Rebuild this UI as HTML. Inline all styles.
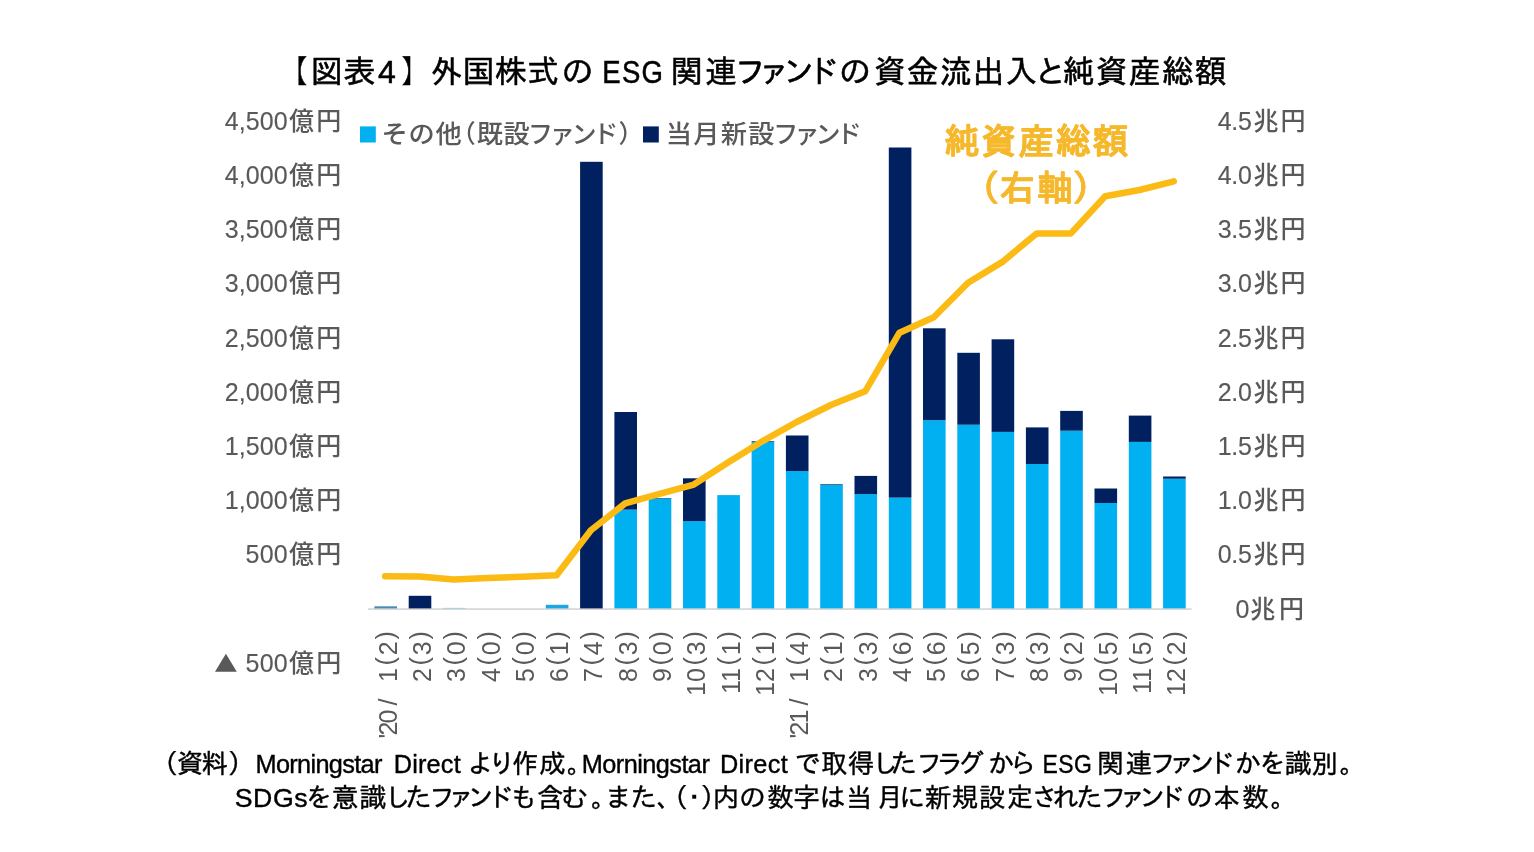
<!DOCTYPE html>
<html lang="ja">
<head>
<meta charset="utf-8">
<title>図表4 外国株式のESG関連ファンドの資金流出入と純資産総額</title>
<style>
html,body{margin:0;padding:0;background:#fff;}
body{width:1534px;height:852px;overflow:hidden;}
svg{display:block;}
text{white-space:pre;}
.g{font-family:"Liberation Sans","IPAPGothic","IPAGothic","Noto Sans CJK JP",sans-serif;fill:#000;}
.t{font-size:32px;stroke:#000;stroke-width:0.55px;}
.f{font-size:26.67px;stroke:#000;stroke-width:0.4px;}
.y{font-family:"Liberation Sans","IPAPGothic","IPAGothic","Noto Sans CJK JP",sans-serif;fill:#F6B82C;font-size:35.5px;font-weight:bold;stroke:#F6B82C;stroke-width:0.4px;stroke-linejoin:round;}
.n{font-family:"Liberation Sans","Noto Sans CJK JP",sans-serif;fill:#595959;font-size:25px;stroke:#595959;stroke-width:0.15px;}
.x{font-family:"Liberation Sans","Noto Sans CJK JP",sans-serif;fill:#595959;font-size:25px;}
.k{font-family:"Liberation Sans","Noto Sans CJK JP",sans-serif;fill:#595959;font-size:25px;font-weight:500;}
</style>
</head>
<body>
<svg width="1534" height="852" viewBox="0 0 1534 852">
<rect width="1534" height="852" fill="#fff"/>
<!-- title -->
<text class="g t" x="290.87" y="83">【</text>
<text class="g t" x="310.75" y="83" textLength="64.64" lengthAdjust="spacing">図表</text>
<text class="g t" x="378.12" y="83">4</text>
<text class="g t" x="400.38" y="83">】</text>
<text class="g t" x="430.5" y="83" textLength="128.21" lengthAdjust="spacing">外国株式</text>
<text class="g t" x="561.99" y="83">の</text>
<text class="g t" transform="translate(602.29 83) scale(0.86 1)" x="0" y="0" textLength="70.56" lengthAdjust="spacing">ESG</text>
<text class="g t" x="670.76" y="83" textLength="66.54" lengthAdjust="spacing">関連</text>
<text class="g t" x="737.16" y="83" textLength="99.22" lengthAdjust="spacing">ファンド</text>
<text class="g t" x="839.55" y="83">の</text>
<text class="g t" x="874.02" y="83" textLength="163.14" lengthAdjust="spacing">資金流出入</text>
<text class="g t" x="1037.66" y="83">と</text>
<text class="g t" x="1062.73" y="83" textLength="163.94" lengthAdjust="spacing">純資産総額</text>
<!-- axis -->
<rect x="368" y="608.2" width="823.5" height="1.8" fill="#D9D9D9"/>
<!-- bars -->
<rect x="374.4" y="606.3" width="22.6" height="2.1" fill="#4A8AB5"/>
<rect x="443.0" y="607.9" width="22.6" height="0.6" fill="#7FC4E8"/>
<rect x="545.8" y="604.8" width="22.6" height="3.6" fill="#1FA4E4"/>
<rect x="408.7" y="595.8" width="22.6" height="12.6" fill="#002060"/>
<rect x="580.1" y="161.8" width="22.6" height="446.6" fill="#002060"/>
<rect x="614.4" y="509.6" width="22.6" height="98.8" fill="#00B0F0"/><rect x="614.4" y="412.0" width="22.6" height="97.6" fill="#002060"/>
<rect x="648.7" y="498.5" width="22.6" height="109.9" fill="#00B0F0"/><rect x="648.7" y="498.0" width="22.6" height="0.5" fill="#002060"/>
<rect x="683.0" y="521.2" width="22.6" height="87.2" fill="#00B0F0"/><rect x="683.0" y="478.3" width="22.6" height="42.9" fill="#002060"/>
<rect x="717.3" y="495.1" width="22.6" height="113.3" fill="#00B0F0"/>
<rect x="751.6" y="442.0" width="22.6" height="166.4" fill="#00B0F0"/><rect x="751.6" y="441.3" width="22.6" height="0.7" fill="#002060"/>
<rect x="785.9" y="471.1" width="22.6" height="137.3" fill="#00B0F0"/><rect x="785.9" y="435.5" width="22.6" height="35.6" fill="#002060"/>
<rect x="820.2" y="484.7" width="22.6" height="123.7" fill="#00B0F0"/><rect x="820.2" y="484.1" width="22.6" height="0.6" fill="#002060"/>
<rect x="854.5" y="494.1" width="22.6" height="114.3" fill="#00B0F0"/><rect x="854.5" y="475.9" width="22.6" height="18.2" fill="#002060"/>
<rect x="888.8" y="497.6" width="22.6" height="110.8" fill="#00B0F0"/><rect x="888.8" y="147.5" width="22.6" height="350.1" fill="#002060"/>
<rect x="923.0" y="420.2" width="22.6" height="188.2" fill="#00B0F0"/><rect x="923.0" y="328.3" width="22.6" height="91.9" fill="#002060"/>
<rect x="957.3" y="424.7" width="22.6" height="183.7" fill="#00B0F0"/><rect x="957.3" y="352.8" width="22.6" height="71.9" fill="#002060"/>
<rect x="991.6" y="431.9" width="22.6" height="176.5" fill="#00B0F0"/><rect x="991.6" y="339.3" width="22.6" height="92.6" fill="#002060"/>
<rect x="1025.9" y="464.0" width="22.6" height="144.4" fill="#00B0F0"/><rect x="1025.9" y="427.4" width="22.6" height="36.6" fill="#002060"/>
<rect x="1060.2" y="430.7" width="22.6" height="177.7" fill="#00B0F0"/><rect x="1060.2" y="410.9" width="22.6" height="19.8" fill="#002060"/>
<rect x="1094.5" y="503.0" width="22.6" height="105.4" fill="#00B0F0"/><rect x="1094.5" y="488.5" width="22.6" height="14.5" fill="#002060"/>
<rect x="1128.8" y="441.9" width="22.6" height="166.5" fill="#00B0F0"/><rect x="1128.8" y="415.6" width="22.6" height="26.3" fill="#002060"/>
<rect x="1163.1" y="478.7" width="22.6" height="129.7" fill="#00B0F0"/><rect x="1163.1" y="476.5" width="22.6" height="2.2" fill="#002060"/>
<!-- line -->
<polyline points="385.1,576.3 419.4,576.6 453.7,579.6 488.0,578.0 522.3,576.8 556.6,575.2 590.9,530.2 625.2,503.4 659.5,493.9 693.8,484.6 728.0,462.6 762.3,441.3 796.6,422.0 830.9,405.0 865.2,391.3 899.5,332.7 933.8,317.2 968.1,282.7 1002.4,261.9 1036.7,233.4 1070.9,233.4 1105.2,196.3 1139.5,190.0 1173.8,181.3" fill="none" stroke="#FBBB14" stroke-width="6.5" stroke-linecap="round" stroke-linejoin="round"/>
<!-- left axis -->
<text class="n" x="224.8" y="129.8" textLength="62.85" lengthAdjust="spacing">4,500</text><text class="k" x="289.0" y="129.8" textLength="52.3" lengthAdjust="spacing">億円</text>
<text class="n" x="224.8" y="184.0" textLength="62.85" lengthAdjust="spacing">4,000</text><text class="k" x="289.0" y="184.0" textLength="52.3" lengthAdjust="spacing">億円</text>
<text class="n" x="224.8" y="238.2" textLength="62.85" lengthAdjust="spacing">3,500</text><text class="k" x="289.0" y="238.2" textLength="52.3" lengthAdjust="spacing">億円</text>
<text class="n" x="224.8" y="292.4" textLength="62.85" lengthAdjust="spacing">3,000</text><text class="k" x="289.0" y="292.4" textLength="52.3" lengthAdjust="spacing">億円</text>
<text class="n" x="224.8" y="346.6" textLength="62.85" lengthAdjust="spacing">2,500</text><text class="k" x="289.0" y="346.6" textLength="52.3" lengthAdjust="spacing">億円</text>
<text class="n" x="224.8" y="400.8" textLength="62.85" lengthAdjust="spacing">2,000</text><text class="k" x="289.0" y="400.8" textLength="52.3" lengthAdjust="spacing">億円</text>
<text class="n" x="224.8" y="454.9" textLength="62.85" lengthAdjust="spacing">1,500</text><text class="k" x="289.0" y="454.9" textLength="52.3" lengthAdjust="spacing">億円</text>
<text class="n" x="224.8" y="509.1" textLength="62.85" lengthAdjust="spacing">1,000</text><text class="k" x="289.0" y="509.1" textLength="52.3" lengthAdjust="spacing">億円</text>
<text class="n" x="245.5" y="563.3" textLength="42.2" lengthAdjust="spacing">500</text><text class="k" x="289.0" y="563.3" textLength="52.3" lengthAdjust="spacing">億円</text>
<path d="M215 671.8 L225.9 653.8 L236.8 671.8 Z" fill="#595959"/>
<text class="n" x="245.5" y="671.7" textLength="42.2" lengthAdjust="spacing">500</text><text class="k" x="289.0" y="671.7" textLength="52.3" lengthAdjust="spacing">億円</text>
<!-- right axis -->
<text class="n" x="1217.8" y="129.8" textLength="34.0" lengthAdjust="spacing">4.5</text><text class="k" x="1253.5" y="129.8" textLength="52.1" lengthAdjust="spacing">兆円</text>
<text class="n" x="1217.8" y="184.0" textLength="34.0" lengthAdjust="spacing">4.0</text><text class="k" x="1253.5" y="184.0" textLength="52.1" lengthAdjust="spacing">兆円</text>
<text class="n" x="1217.8" y="238.2" textLength="34.0" lengthAdjust="spacing">3.5</text><text class="k" x="1253.5" y="238.2" textLength="52.1" lengthAdjust="spacing">兆円</text>
<text class="n" x="1217.8" y="292.4" textLength="34.0" lengthAdjust="spacing">3.0</text><text class="k" x="1253.5" y="292.4" textLength="52.1" lengthAdjust="spacing">兆円</text>
<text class="n" x="1217.8" y="346.6" textLength="34.0" lengthAdjust="spacing">2.5</text><text class="k" x="1253.5" y="346.6" textLength="52.1" lengthAdjust="spacing">兆円</text>
<text class="n" x="1217.8" y="400.8" textLength="34.0" lengthAdjust="spacing">2.0</text><text class="k" x="1253.5" y="400.8" textLength="52.1" lengthAdjust="spacing">兆円</text>
<text class="n" x="1217.8" y="454.9" textLength="34.0" lengthAdjust="spacing">1.5</text><text class="k" x="1253.5" y="454.9" textLength="52.1" lengthAdjust="spacing">兆円</text>
<text class="n" x="1217.8" y="509.1" textLength="34.0" lengthAdjust="spacing">1.0</text><text class="k" x="1253.5" y="509.1" textLength="52.1" lengthAdjust="spacing">兆円</text>
<text class="n" x="1217.8" y="563.3" textLength="34.0" lengthAdjust="spacing">0.5</text><text class="k" x="1253.5" y="563.3" textLength="52.1" lengthAdjust="spacing">兆円</text>
<text class="n" x="1235.6" y="617.5">0</text><text class="k" x="1250.2" y="617.5" textLength="53.7" lengthAdjust="spacing">兆円</text>
<!-- legend -->
<rect x="360" y="126.4" width="15.8" height="16.1" fill="#00B0F0"/>
<text class="k" transform="translate(381.51 142.8) scale(1.05 1)" x="0" y="0" textLength="76.45" lengthAdjust="spacing">その他</text>
<text class="k" x="450.74" y="142.8">（</text>
<text class="k" transform="translate(476.64 142.8) scale(1.05 1)" x="0" y="0" textLength="50.52" lengthAdjust="spacing">既設</text>
<text class="k" x="528.09" y="142.8" textLength="90.28" lengthAdjust="spacing">ファンド</text>
<text class="k" x="618.38" y="142.8">）</text>
<rect x="643" y="126.4" width="15.8" height="16.1" fill="#002060"/>
<text class="k" transform="translate(665.87 142.8) scale(1.05 1)" x="0" y="0" textLength="103.55" lengthAdjust="spacing">当月新設</text>
<text class="k" x="773.36" y="142.8" textLength="88.32" lengthAdjust="spacing">ファンド</text>
<!-- annotation -->
<text class="y" x="944.16" y="153.9" textLength="183.91" lengthAdjust="spacing">純資産総額</text>
<text class="y" x="979.67" y="201.0">（</text>
<text class="y" x="999.38" y="201.0" textLength="73.13" lengthAdjust="spacing">右軸</text>
<text class="y" x="1072.51" y="201.0">）</text>
<!-- x axis labels -->
<g transform="translate(396.8 632.5) rotate(-90)"><text class="x" x="-106" y="0" textLength="28.9" lengthAdjust="spacing">'20</text><text class="x" x="-73" y="0">/</text><text class="x" x="-35.6" y="0" text-anchor="end">1</text><text class="x" x="-33" y="0" textLength="34.4" lengthAdjust="spacing"><tspan dy="-3.2">(</tspan><tspan dy="3.2">2</tspan><tspan dy="-3.2">)</tspan></text></g>
<g transform="translate(431.1 632.5) rotate(-90)"><text class="x" x="-35.6" y="0" text-anchor="end">2</text><text class="x" x="-33" y="0" textLength="34.4" lengthAdjust="spacing"><tspan dy="-3.2">(</tspan><tspan dy="3.2">3</tspan><tspan dy="-3.2">)</tspan></text></g>
<g transform="translate(465.3 632.5) rotate(-90)"><text class="x" x="-35.6" y="0" text-anchor="end">3</text><text class="x" x="-33" y="0" textLength="34.4" lengthAdjust="spacing"><tspan dy="-3.2">(</tspan><tspan dy="3.2">0</tspan><tspan dy="-3.2">)</tspan></text></g>
<g transform="translate(499.6 632.5) rotate(-90)"><text class="x" x="-35.6" y="0" text-anchor="end">4</text><text class="x" x="-33" y="0" textLength="34.4" lengthAdjust="spacing"><tspan dy="-3.2">(</tspan><tspan dy="3.2">0</tspan><tspan dy="-3.2">)</tspan></text></g>
<g transform="translate(533.9 632.5) rotate(-90)"><text class="x" x="-35.6" y="0" text-anchor="end">5</text><text class="x" x="-33" y="0" textLength="34.4" lengthAdjust="spacing"><tspan dy="-3.2">(</tspan><tspan dy="3.2">0</tspan><tspan dy="-3.2">)</tspan></text></g>
<g transform="translate(568.2 632.5) rotate(-90)"><text class="x" x="-35.6" y="0" text-anchor="end">6</text><text class="x" x="-33" y="0" textLength="34.4" lengthAdjust="spacing"><tspan dy="-3.2">(</tspan><tspan dy="3.2">1</tspan><tspan dy="-3.2">)</tspan></text></g>
<g transform="translate(602.4 632.5) rotate(-90)"><text class="x" x="-35.6" y="0" text-anchor="end">7</text><text class="x" x="-33" y="0" textLength="34.4" lengthAdjust="spacing"><tspan dy="-3.2">(</tspan><tspan dy="3.2">4</tspan><tspan dy="-3.2">)</tspan></text></g>
<g transform="translate(636.7 632.5) rotate(-90)"><text class="x" x="-35.6" y="0" text-anchor="end">8</text><text class="x" x="-33" y="0" textLength="34.4" lengthAdjust="spacing"><tspan dy="-3.2">(</tspan><tspan dy="3.2">3</tspan><tspan dy="-3.2">)</tspan></text></g>
<g transform="translate(671.0 632.5) rotate(-90)"><text class="x" x="-35.6" y="0" text-anchor="end">9</text><text class="x" x="-33" y="0" textLength="34.4" lengthAdjust="spacing"><tspan dy="-3.2">(</tspan><tspan dy="3.2">0</tspan><tspan dy="-3.2">)</tspan></text></g>
<g transform="translate(705.2 632.5) rotate(-90)"><text class="x" x="-35.6" y="0" text-anchor="end">10</text><text class="x" x="-33" y="0" textLength="34.4" lengthAdjust="spacing"><tspan dy="-3.2">(</tspan><tspan dy="3.2">3</tspan><tspan dy="-3.2">)</tspan></text></g>
<g transform="translate(739.5 632.5) rotate(-90)"><text class="x" x="-35.6" y="0" text-anchor="end">11</text><text class="x" x="-33" y="0" textLength="34.4" lengthAdjust="spacing"><tspan dy="-3.2">(</tspan><tspan dy="3.2">1</tspan><tspan dy="-3.2">)</tspan></text></g>
<g transform="translate(773.8 632.5) rotate(-90)"><text class="x" x="-35.6" y="0" text-anchor="end">12</text><text class="x" x="-33" y="0" textLength="34.4" lengthAdjust="spacing"><tspan dy="-3.2">(</tspan><tspan dy="3.2">1</tspan><tspan dy="-3.2">)</tspan></text></g>
<g transform="translate(808.0 632.5) rotate(-90)"><text class="x" x="-106" y="0" textLength="28.9" lengthAdjust="spacing">'21</text><text class="x" x="-73" y="0">/</text><text class="x" x="-35.6" y="0" text-anchor="end">1</text><text class="x" x="-33" y="0" textLength="34.4" lengthAdjust="spacing"><tspan dy="-3.2">(</tspan><tspan dy="3.2">4</tspan><tspan dy="-3.2">)</tspan></text></g>
<g transform="translate(842.3 632.5) rotate(-90)"><text class="x" x="-35.6" y="0" text-anchor="end">2</text><text class="x" x="-33" y="0" textLength="34.4" lengthAdjust="spacing"><tspan dy="-3.2">(</tspan><tspan dy="3.2">1</tspan><tspan dy="-3.2">)</tspan></text></g>
<g transform="translate(876.6 632.5) rotate(-90)"><text class="x" x="-35.6" y="0" text-anchor="end">3</text><text class="x" x="-33" y="0" textLength="34.4" lengthAdjust="spacing"><tspan dy="-3.2">(</tspan><tspan dy="3.2">3</tspan><tspan dy="-3.2">)</tspan></text></g>
<g transform="translate(910.9 632.5) rotate(-90)"><text class="x" x="-35.6" y="0" text-anchor="end">4</text><text class="x" x="-33" y="0" textLength="34.4" lengthAdjust="spacing"><tspan dy="-3.2">(</tspan><tspan dy="3.2">6</tspan><tspan dy="-3.2">)</tspan></text></g>
<g transform="translate(945.1 632.5) rotate(-90)"><text class="x" x="-35.6" y="0" text-anchor="end">5</text><text class="x" x="-33" y="0" textLength="34.4" lengthAdjust="spacing"><tspan dy="-3.2">(</tspan><tspan dy="3.2">6</tspan><tspan dy="-3.2">)</tspan></text></g>
<g transform="translate(979.4 632.5) rotate(-90)"><text class="x" x="-35.6" y="0" text-anchor="end">6</text><text class="x" x="-33" y="0" textLength="34.4" lengthAdjust="spacing"><tspan dy="-3.2">(</tspan><tspan dy="3.2">5</tspan><tspan dy="-3.2">)</tspan></text></g>
<g transform="translate(1013.7 632.5) rotate(-90)"><text class="x" x="-35.6" y="0" text-anchor="end">7</text><text class="x" x="-33" y="0" textLength="34.4" lengthAdjust="spacing"><tspan dy="-3.2">(</tspan><tspan dy="3.2">3</tspan><tspan dy="-3.2">)</tspan></text></g>
<g transform="translate(1047.9 632.5) rotate(-90)"><text class="x" x="-35.6" y="0" text-anchor="end">8</text><text class="x" x="-33" y="0" textLength="34.4" lengthAdjust="spacing"><tspan dy="-3.2">(</tspan><tspan dy="3.2">3</tspan><tspan dy="-3.2">)</tspan></text></g>
<g transform="translate(1082.2 632.5) rotate(-90)"><text class="x" x="-35.6" y="0" text-anchor="end">9</text><text class="x" x="-33" y="0" textLength="34.4" lengthAdjust="spacing"><tspan dy="-3.2">(</tspan><tspan dy="3.2">2</tspan><tspan dy="-3.2">)</tspan></text></g>
<g transform="translate(1116.5 632.5) rotate(-90)"><text class="x" x="-35.6" y="0" text-anchor="end">10</text><text class="x" x="-33" y="0" textLength="34.4" lengthAdjust="spacing"><tspan dy="-3.2">(</tspan><tspan dy="3.2">5</tspan><tspan dy="-3.2">)</tspan></text></g>
<g transform="translate(1150.7 632.5) rotate(-90)"><text class="x" x="-35.6" y="0" text-anchor="end">11</text><text class="x" x="-33" y="0" textLength="34.4" lengthAdjust="spacing"><tspan dy="-3.2">(</tspan><tspan dy="3.2">5</tspan><tspan dy="-3.2">)</tspan></text></g>
<g transform="translate(1185.0 632.5) rotate(-90)"><text class="x" x="-35.6" y="0" text-anchor="end">12</text><text class="x" x="-33" y="0" textLength="34.4" lengthAdjust="spacing"><tspan dy="-3.2">(</tspan><tspan dy="3.2">2</tspan><tspan dy="-3.2">)</tspan></text></g>
<!-- footer -->
<text class="g f" x="163.42" y="772.8">（</text>
<text class="g f" x="176.85" y="772.8" textLength="51.17" lengthAdjust="spacing">資料</text>
<text class="g f" x="227.73" y="772.8">）</text>
<text class="g f" transform="translate(255.55 772.8) scale(0.95 1)" x="0" y="0" textLength="133.52" lengthAdjust="spacing">Morningstar</text>
<text class="g f" transform="translate(393.75 772.8) scale(0.95 1)" x="0" y="0" textLength="70.51" lengthAdjust="spacing">Direct</text>
<text class="g f" x="469.16" y="772.8" textLength="42.9" lengthAdjust="spacing">より</text>
<text class="g f" x="512.02" y="772.8" textLength="53.74" lengthAdjust="spacing">作成</text>
<text class="g f" x="566.86" y="772.8">。</text>
<text class="g f" transform="translate(581.75 772.8) scale(0.95 1)" x="0" y="0" textLength="134.83" lengthAdjust="spacing">Morningstar</text>
<text class="g f" transform="translate(719.93 772.8) scale(0.95 1)" x="0" y="0" textLength="71.37" lengthAdjust="spacing">Direct</text>
<text class="g f" x="795.63" y="772.8">で</text>
<text class="g f" x="820.75" y="772.8" textLength="53.71" lengthAdjust="spacing">取得</text>
<text class="g f" x="874.75" y="772.8" textLength="41.12" lengthAdjust="spacing">した</text>
<text class="g f" x="918.49" y="772.8" textLength="65.38" lengthAdjust="spacing">フラグ</text>
<text class="g f" x="988.25" y="772.8" textLength="45.75" lengthAdjust="spacing">から</text>
<text class="g f" transform="translate(1042.57 772.8) scale(0.86 1)" x="0" y="0" textLength="57.2" lengthAdjust="spacing">ESG</text>
<text class="g f" x="1097.36" y="772.8" textLength="54.88" lengthAdjust="spacing">関連</text>
<text class="g f" x="1152.09" y="772.8" textLength="80.31" lengthAdjust="spacing">ファンド</text>
<text class="g f" x="1235.0" y="772.8" textLength="48.72" lengthAdjust="spacing">かを</text>
<text class="g f" x="1285.0" y="772.8" textLength="52.8" lengthAdjust="spacing">識別</text>
<text class="g f" x="1339.42" y="772.8">。</text>
<text class="g f" x="234.67" y="806.6" textLength="72.93" lengthAdjust="spacing">SDGs</text>
<text class="g f" x="307.16" y="806.6">を</text>
<text class="g f" x="331.85" y="806.6" textLength="54.52" lengthAdjust="spacing">意識</text>
<text class="g f" x="387.37" y="806.6" textLength="43.29" lengthAdjust="spacing">した</text>
<text class="g f" x="431.19" y="806.6" textLength="80.2" lengthAdjust="spacing">ファンド</text>
<text class="g f" x="512.81" y="806.6">も</text>
<text class="g f" x="536.64" y="806.6">含</text>
<text class="g f" x="561.43" y="806.6">む</text>
<text class="g f" x="591.09" y="806.6">。</text>
<text class="g f" x="607.09" y="806.6" textLength="48.75" lengthAdjust="spacing">また</text>
<text class="g f" x="656.58" y="806.6">、</text>
<text class="g f" x="673.4" y="806.6">（</text>
<text class="g f" x="687.62" y="806.6">・</text>
<text class="g f" x="700.6" y="806.6">）</text>
<text class="g f" x="712.53" y="806.6">内</text>
<text class="g f" x="739.62" y="806.6">の</text>
<text class="g f" x="767.26" y="806.6" textLength="52.56" lengthAdjust="spacing">数字</text>
<text class="g f" x="819.93" y="806.6">は</text>
<text class="g f" x="845.73" y="806.6" textLength="57.53" lengthAdjust="spacing">当月</text>
<text class="g f" x="899.91" y="806.6">に</text>
<text class="g f" x="925.04" y="806.6" textLength="107.76" lengthAdjust="spacing">新規設定</text>
<text class="g f" x="1033.0" y="806.6" textLength="68.53" lengthAdjust="spacing">された</text>
<text class="g f" x="1102.85" y="806.6" textLength="79.97" lengthAdjust="spacing">ファンド</text>
<text class="g f" x="1186.4" y="806.6">の</text>
<text class="g f" x="1213.22" y="806.6" textLength="55.64" lengthAdjust="spacing">本数</text>
<text class="g f" x="1270.42" y="806.6">。</text>
</svg>
</body>
</html>
